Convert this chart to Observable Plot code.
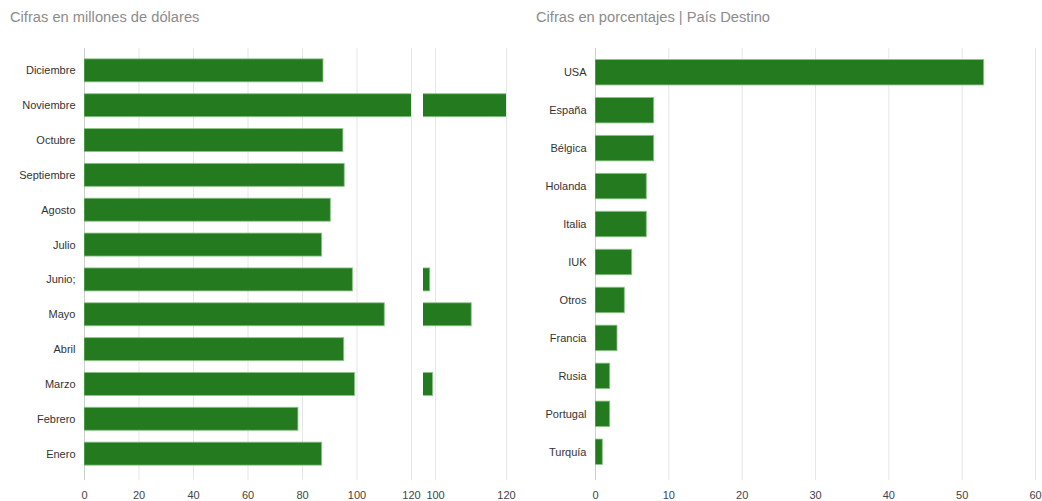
<!DOCTYPE html>
<html>
<head>
<meta charset="utf-8">
<script src="https://cdn.jsdelivr.net/npm/d3@7"></script>
<script src="https://cdn.jsdelivr.net/npm/@observablehq/plot@0.6"></script>
<style>
  html, body { margin: 0; padding: 0; background: #fff; }
  #root { position: relative; width: 1042px; height: 501px; font-family: "Liberation Sans", Arial, Helvetica, sans-serif; }
  .title { position: absolute; top: 9px; font-size: 14.7px; color: #8c8c8c; white-space: nowrap; }
  .panel { position: absolute; top: 0; }
  .panel svg { overflow: visible; }
</style>
</head>
<body>
<div id="root">
  <div class="title" style="left:10px">Cifras en millones de dólares</div>
  <div class="title" style="left:536px">Cifras en porcentajes | País Destino</div>
  <div class="panel" id="p1" style="left:0"></div>
  <div class="panel" id="p2" style="left:0"></div>
  <div class="panel" id="p3" style="left:520px"></div>
</div>
<script>
const months = ["Diciembre","Noviembre","Octubre","Septiembre","Agosto","Julio","Junio;","Mayo","Abril","Marzo","Febrero","Enero"];
const monthValues = [87.7, 120.5, 95.0, 95.5, 90.4, 87.2, 98.5, 110.2, 95.3, 99.3, 78.5, 87.2];
const mainTicks = [0, 20, 40, 60, 80, 100, 120];
const breakTicks = [100, 120];

const countries = ["USA","España","Bélgica","Holanda","Italia","IUK","Otros","Francia","Rusia","Portugal","Turquía"];
const countryValues = [53, 8, 8, 7, 7, 5, 4, 3, 2, 2, 1];
const pctTicks = [0, 10, 20, 30, 40, 50, 60];

const monthData = months.map((m, i) => ({label: m, value: monthValues[i]}));
const countryData = countries.map((c, i) => ({label: c, value: countryValues[i]}));

const FILL = "#247a1f";
const EDGE = "#8cc487";
const FONT = "Liberation Sans, Arial, Helvetica, sans-serif";

function panel({data, domain, order, ticks, width, height, mL, mR, showY, padding, zeroLine}) {
  return Plot.plot({
    width, height,
    marginLeft: mL, marginRight: mR, marginTop: 47, marginBottom: 24,
    style: {fontFamily: FONT, fontSize: "11px", color: "#333", background: "transparent", overflow: "visible"},
    x: {domain, ticks, tickSize: 0, label: null, tickFormat: d => String(d)},
    y: {domain: order, padding, round: false, label: null, axis: showY ? "left" : null, tickSize: 0, tickPadding: 9},
    marks: [
      Plot.gridX(ticks, {stroke: "#e6e6e6", strokeOpacity: 1, insetBottom: -3, insetTop: 1}),
      ...(zeroLine ? [Plot.ruleX([0], {stroke: "#cfcfcf", insetBottom: -3, insetTop: 1})] : []),
      Plot.barX(data, {x: "value", y: "label", fill: FILL, stroke: EDGE, strokeWidth: 1, strokeOpacity: 0.8, clip: true}),
      Plot.axisX({ticks, tickSize: 0, tickPadding: 14, fill: "#444", fontSize: 11})
    ]
  });
}

document.getElementById("p1").append(panel({
  data: monthData, domain: [0, 120], order: months, ticks: mainTicks,
  width: 423, height: 501, mL: 84, mR: 12, showY: true, padding: 0.34, zeroLine: true
}));

document.getElementById("p2").append(panel({
  data: monthData, domain: [96.6, 120], order: months, ticks: breakTicks,
  width: 520, height: 501, mL: 423, mR: 14, showY: false, padding: 0.34, zeroLine: false
}));

document.getElementById("p3").append(panel({
  data: countryData, domain: [0, 60], order: countries, ticks: pctTicks,
  width: 522, height: 501, mL: 75, mR: 7, showY: true, padding: 0.33, zeroLine: true
}));
</script>
</body>
</html>
